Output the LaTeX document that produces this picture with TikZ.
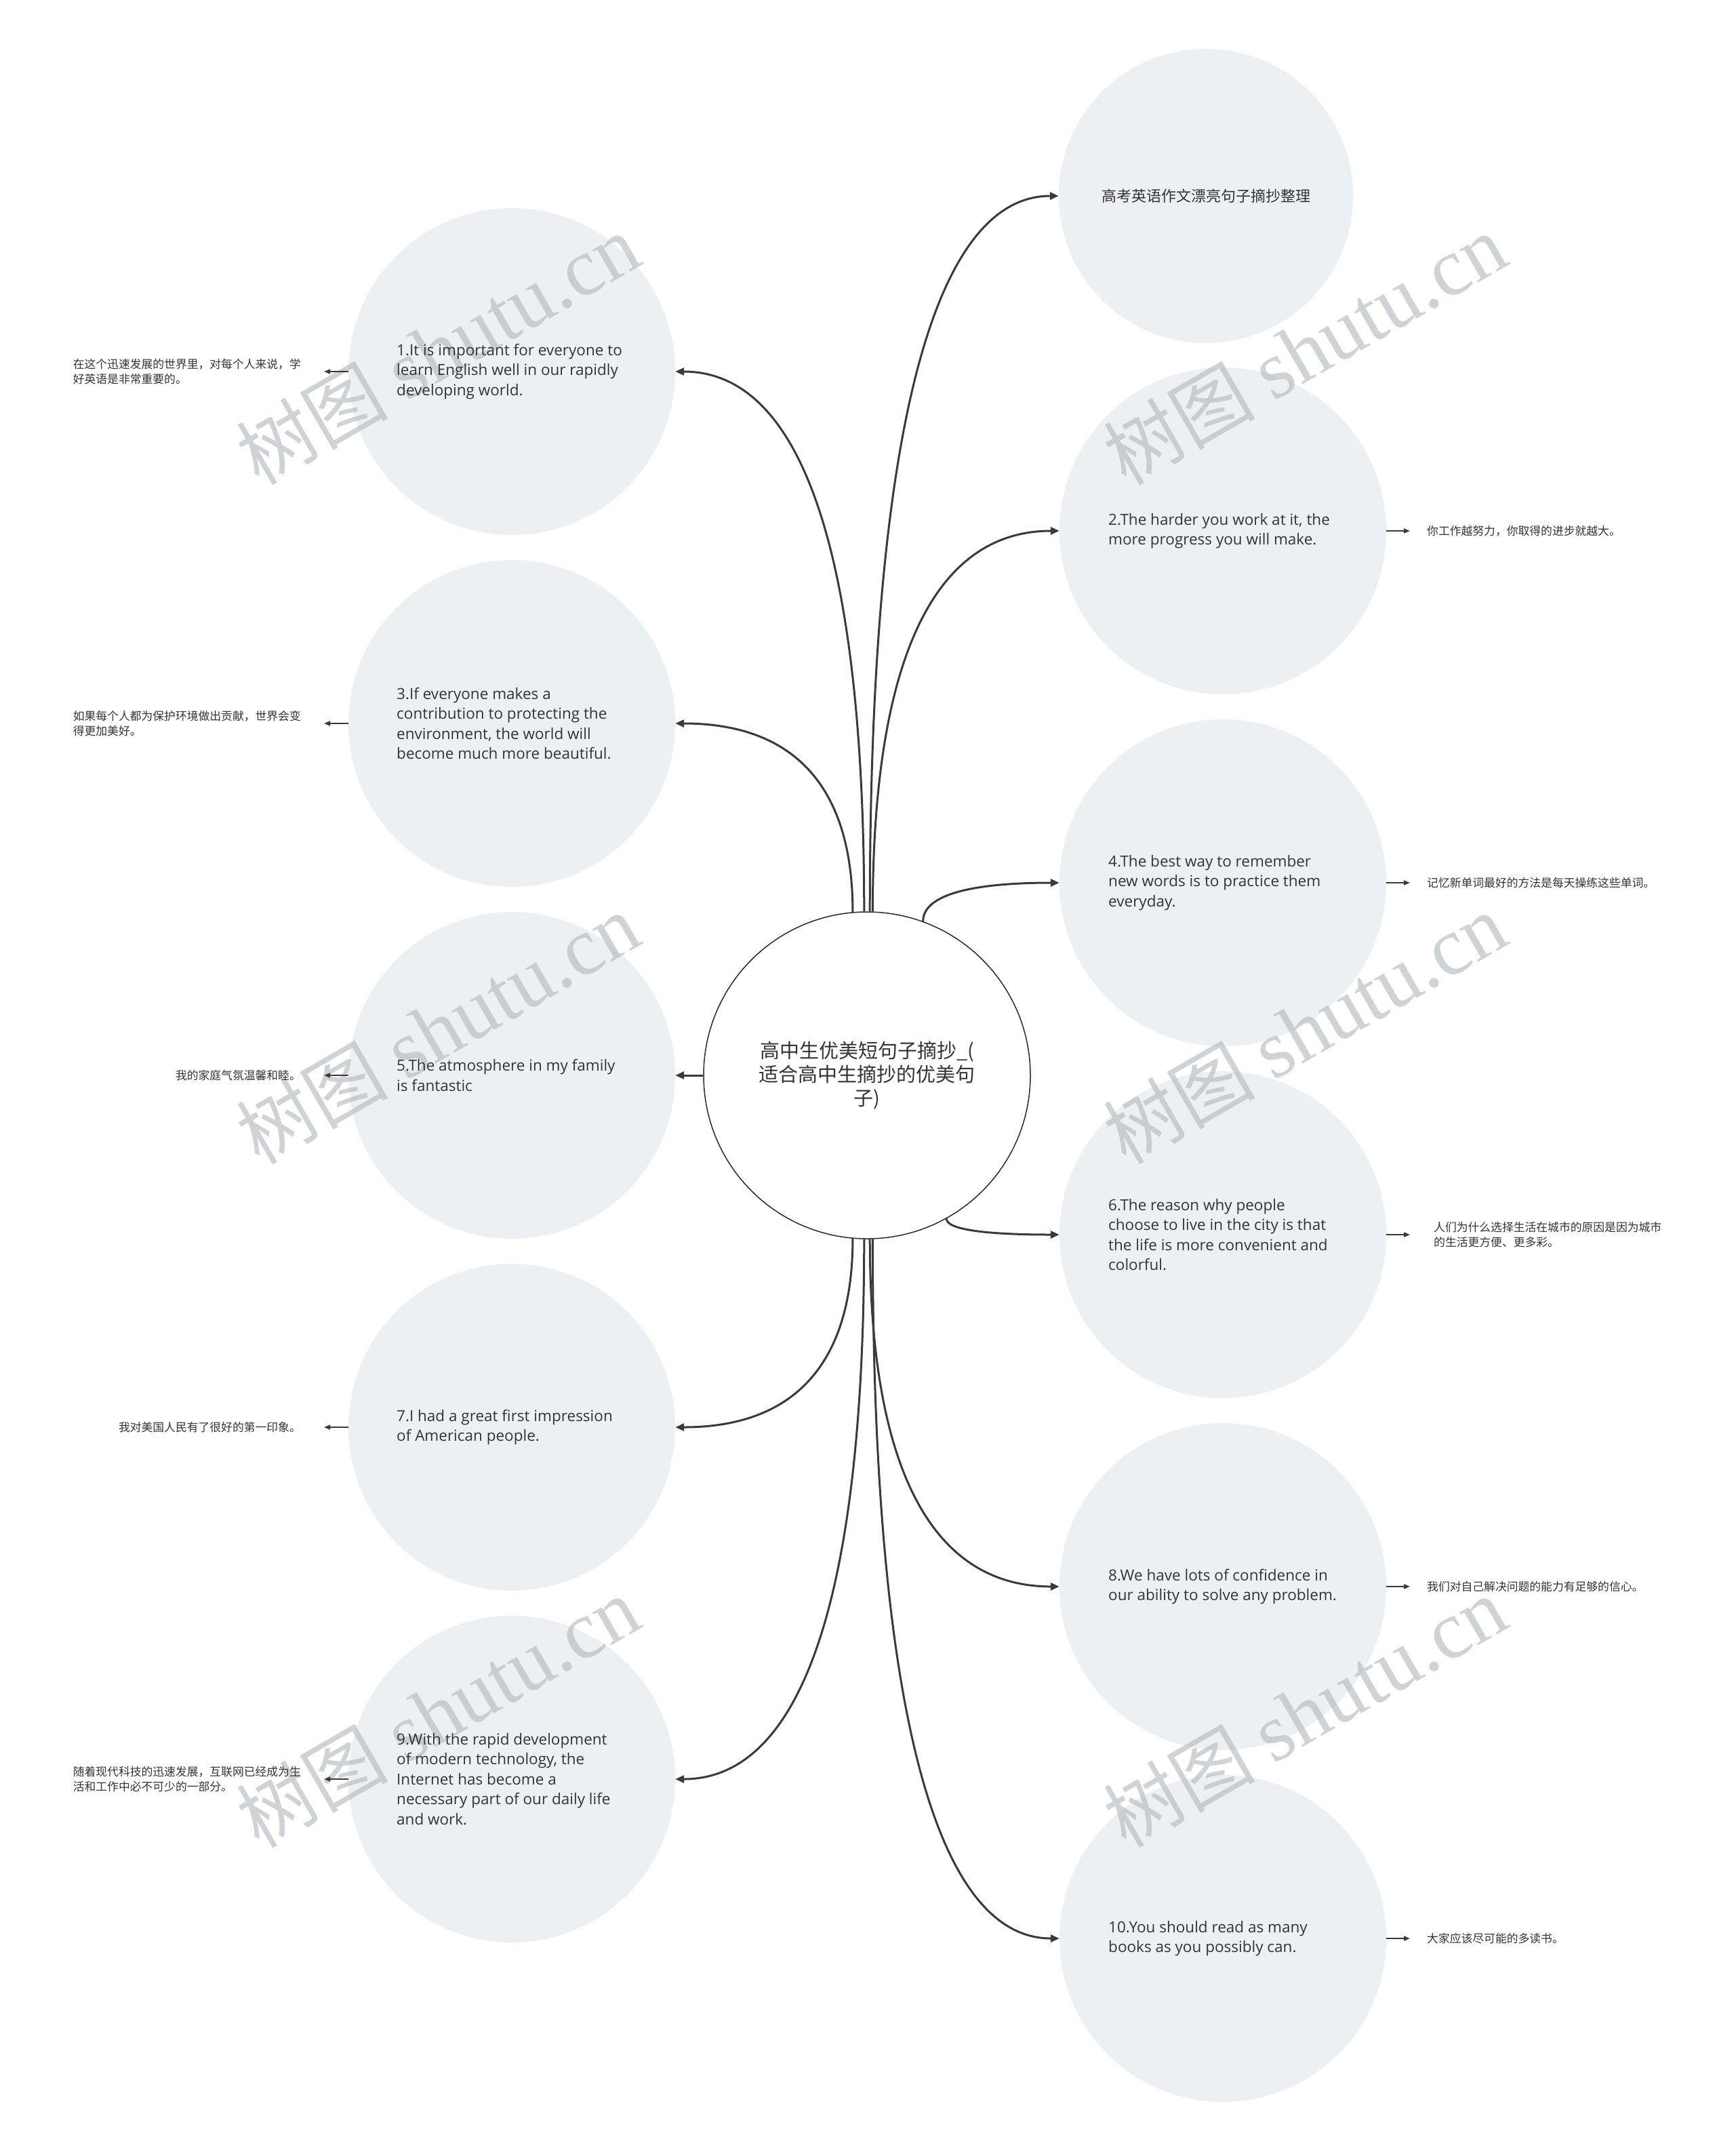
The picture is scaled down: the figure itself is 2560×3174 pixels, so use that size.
\documentclass[tikz,border=0pt]{standalone}
\usepackage{fontspec}
\setmainfont{Open Sans}
\newfontfamily\cjk{Noto Sans CJK SC}
\newfontfamily\wmserif{Liberation Serif}
\usetikzlibrary{arrows.meta,calc}
\definecolor{bubblec}{HTML}{EDF0F3}
\definecolor{ink}{HTML}{333333}
\definecolor{wire}{HTML}{3A3A3A}
\definecolor{hubline}{HTML}{2A2A2A}
\definecolor{wmc}{HTML}{B4B8BC}
\newcommand{\wmtext}{{\cjk\fontsize{112}{112}\selectfont 树图}\hspace{26pt}{\wmserif\fontsize{121}{121}\selectfont shutu.cn}}
\begin{document}
\begin{tikzpicture}[x=1pt,y=-1pt,
  bub/.style={circle, fill=bubblec, minimum size=482pt, inner sep=0pt},
  hub/.style={circle, draw=hubline, line width=1.5pt, fill=white, minimum size=482pt, inner sep=0pt, align=center, font=\cjk\fontsize{29}{35}\selectfont, text=ink},
  btext/.style={anchor=west, align=left, inner sep=0pt, font=\fontsize{22.5}{29.5}\selectfont, text=ink},
  ltrans/.style={anchor=east, align=left, inner sep=0pt, font=\cjk\fontsize{16.8}{22.5}\selectfont, text=ink},
  rtrans/.style={anchor=west, align=left, inner sep=0pt, font=\cjk\fontsize{16.8}{22.5}\selectfont, text=ink},
  conn/.style={draw=wire, line width=3pt, -{Triangle[length=13pt,width=11pt]}},
  sidearr/.style={draw=wire, line width=1.8pt, -{Triangle[length=9pt,width=7pt]}},
  wmark/.style={rotate=30, text=wmc, opacity=0.62, inner sep=0pt}
]
\useasboundingbox (0,0) rectangle (2560,3174);
\fill[white] (0,0) rectangle (2560,3174);

% circles
\node[bub] (L1) at (755,548) {};
\node[bub] (L3) at (755,1067) {};
\node[bub] (L5) at (755,1586) {};
\node[bub] (L7) at (755,2105) {};
\node[bub] (L9) at (755,2624) {};
\node[bub, minimum size=434pt] (T0) at (1779,289) {};
\node[bub] (R2) at (1804,783) {};
\node[bub] (R4) at (1804,1302) {};
\node[bub] (R6) at (1804,1821) {};
\node[bub] (R8) at (1804,2340) {};
\node[bub] (R10) at (1804,2859) {};
\node[hub] (c) at (1279,1586) {高中生优美短句子摘抄\_(\\适合高中生摘抄的优美句\\子)};

% connectors
\draw[conn] (c.91) .. controls ($(c.91)!0.667!(c.91 |- L1.east)$) and ($(L1.east)!0.667!(c.91 |- L1.east)$) .. (L1.east);
\draw[conn] (c.95) .. controls ($(c.95)!0.667!(c.95 |- L3.east)$) and ($(L3.east)!0.667!(c.95 |- L3.east)$) .. (L3.east);
\draw[conn] (c.89) .. controls ($(c.89)!0.667!(c.89 |- T0.west)$) and ($(T0.west)!0.667!(c.89 |- T0.west)$) .. (T0.west);
\draw[conn] (c.88) .. controls ($(c.88)!0.667!(c.88 |- R2.west)$) and ($(R2.west)!0.667!(c.88 |- R2.west)$) .. (R2.west);
\draw[conn] (c.70) .. controls ($(c.70)!0.667!(c.70 |- R4.west)$) and ($(R4.west)!0.667!(c.70 |- R4.west)$) .. (R4.west);
\draw[conn] (c.west) -- (L5.east);
\draw[conn] (c.299) .. controls ($(c.299)!0.667!(c.299 |- R6.west)$) and ($(R6.west)!0.667!(c.299 |- R6.west)$) .. (R6.west);
\draw[conn] (c.265) .. controls ($(c.265)!0.667!(c.265 |- L7.east)$) and ($(L7.east)!0.667!(c.265 |- L7.east)$) .. (L7.east);
\draw[conn] (c.269) .. controls ($(c.269)!0.667!(c.269 |- L9.east)$) and ($(L9.east)!0.667!(c.269 |- L9.east)$) .. (L9.east);
\draw[conn] (c.271) .. controls ($(c.271)!0.667!(c.271 |- R8.west)$) and ($(R8.west)!0.667!(c.271 |- R8.west)$) .. (R8.west);
\draw[conn] (c.272) .. controls ($(c.272)!0.667!(c.272 |- R10.west)$) and ($(R10.west)!0.667!(c.272 |- R10.west)$) .. (R10.west);

% watermarks (under the texts)
\node[wmark] (w1) at (646,516) {\wmtext};
\node[wmark] (w2) at (1925,516) {\wmtext};
\node[wmark] (w3) at (646,1518) {\wmtext};
\node[wmark] (w4) at (1925,1518) {\wmtext};
\node[wmark] (w5) at (646,2526) {\wmtext};
\node[wmark] (w6) at (1925,2526) {\wmtext};

% texts in circles
\node[font=\cjk\fontsize{22}{28}\selectfont, text=ink, inner sep=0pt] (t0) at (T0.center) {高考英语作文漂亮句子摘抄整理};
\node[btext] (t1) at (585,548) {1.It is important for everyone to\\learn English well in our rapidly\\developing world.};
\node[btext] (t3) at (585,1067) {3.If everyone makes a\\contribution to protecting the\\environment, the world will\\become much more beautiful.};
\node[btext] (t5) at (585,1586) {5.The atmosphere in my family\\is fantastic};
\node[btext] (t7) at (585,2105) {7.I had a great first impression\\of American people.};
\node[btext] (t9) at (585,2624) {9.With the rapid development\\of modern technology, the\\Internet has become a\\necessary part of our daily life\\and work.};
\node[btext] (t2) at (1635,783) {2.The harder you work at it, the\\more progress you will make.};
\node[btext] (t4) at (1635,1302) {4.The best way to remember\\new words is to practice them\\everyday.};
\node[btext] (t6) at (1635,1821) {6.The reason why people\\choose to live in the city is that\\the life is more convenient and\\colorful.};
\node[btext] (t8) at (1635,2340) {8.We have lots of confidence in\\our ability to solve any problem.};
\node[btext] (t10) at (1635,2859) {10.You should read as many\\books as you possibly can.};

% translations
\node[ltrans] (n1) at (444,548) {在这个迅速发展的世界里，对每个人来说，学\\好英语是非常重要的。};
\node[ltrans] (n3) at (444,1067) {如果每个人都为保护环境做出贡献，世界会变\\得更加美好。};
\node[ltrans] (n5) at (444,1586) {我的家庭气氛温馨和睦。};
\node[ltrans] (n7) at (444,2105) {我对美国人民有了很好的第一印象。};
\node[ltrans] (n9) at (444,2624) {随着现代科技的迅速发展，互联网已经成为生\\活和工作中必不可少的一部分。};
\node[rtrans] (n2) at (2105,783) {你工作越努力，你取得的进步就越大。};
\node[rtrans] (n4) at (2105,1302) {记忆新单词最好的方法是每天操练这些单词。};
\node[rtrans] (n6) at (2115,1821) {人们为什么选择生活在城市的原因是因为城市\\的生活更方便、更多彩。};
\node[rtrans] (n8) at (2105,2340) {我们对自己解决问题的能力有足够的信心。};
\node[rtrans] (n10) at (2105,2859) {大家应该尽可能的多读书。};

\draw[sidearr, shorten >=34pt] (L1.west) -- (n1.east);
\draw[sidearr, shorten >=34pt] (L3.west) -- (n3.east);
\draw[sidearr, shorten >=34pt] (L5.west) -- (n5.east);
\draw[sidearr, shorten >=34pt] (L7.west) -- (n7.east);
\draw[sidearr, shorten >=34pt] (L9.west) -- (n9.east);
\draw[sidearr, shorten >=25pt] (R2.east) -- (n2.west);
\draw[sidearr, shorten >=25pt] (R4.east) -- (n4.west);
\draw[sidearr, shorten >=35pt] (R6.east) -- (n6.west);
\draw[sidearr, shorten >=25pt] (R8.east) -- (n8.west);
\draw[sidearr, shorten >=25pt] (R10.east) -- (n10.west);
\end{tikzpicture}
\end{document}
